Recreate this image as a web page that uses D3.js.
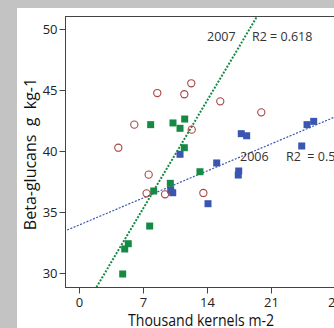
<!DOCTYPE html>
<html>
<head>
<meta charset="utf-8">
<script src="https://cdn.jsdelivr.net/npm/d3@7"></script>
<style>
  body { margin: 0; background: #c3c3c3; overflow: hidden; }
  text { font-family: "Open Sans", sans-serif; }
</style>
</head>
<body>
<div id="chart"></div>
<script>
// points: [kernels (thousand m-2), beta-glucans g kg-1]
const greenX = [7.84, 10.28, 11.05, 11.56, 11.52, 13.23, 9.99, 8.17, 7.73, 5.39, 5.0, 4.78];
const greenY = [42.16, 42.30, 41.86, 42.62, 40.27, 38.30, 37.35, 36.72, 33.85, 32.40, 31.97, 29.92];
const blueX = [11.05, 10.03, 10.25, 15.06, 17.47, 17.42, 14.11, 17.75, 18.34, 24.36, 24.94, 25.67];
const blueY = [39.73, 36.80, 36.58, 39.02, 38.36, 38.03, 35.68, 41.42, 41.25, 40.41, 42.16, 42.43];
const redX = [4.30, 6.05, 8.56, 11.52, 12.28, 15.45, 19.94, 12.33, 7.62, 7.39, 9.41, 13.60];
const redY = [40.27, 42.16, 44.75, 44.65, 45.55, 44.07, 43.17, 41.75, 38.06, 36.53, 36.45, 36.56];

// fitted lines [intercept, slope]
const fit2007 = [26.43, 1.263];
const fit2006 = [33.93, 0.3166];

const xTicks = [0, 7, 14, 21, 28];
const yTicks = [30, 35, 40, 45, 50];

const W = 334, H = 328;
const plotLeft = 65, plotTop = 16, plotBottom = 287;

const svg = d3.select("#chart").append("svg")
    .attr("width", W)
    .attr("height", H);

// white panel
svg.append("rect")
    .attr("x", 17).attr("y", 8)
    .attr("width", W).attr("height", H)
    .attr("fill", "#fff");

const x = d3.scaleLinear().domain([0, 28]).range([79, 335]);
const y = d3.scaleLinear().domain([30, 50]).range([273, 29]);

svg.append("clipPath").attr("id", "plot")
  .append("rect")
    .attr("x", plotLeft).attr("y", plotTop)
    .attr("width", W - plotLeft + 20).attr("height", plotBottom - plotTop);

// top frame line
svg.append("line")
    .attr("x1", plotLeft).attr("x2", W + 5)
    .attr("y1", plotTop + 0.5).attr("y2", plotTop + 0.5)
    .attr("stroke", "#444").attr("stroke-width", 1);

// axes
const yAxis = svg.append("g")
    .attr("transform", `translate(${plotLeft + 0.5},0)`)
    .call(d3.axisLeft(y).tickValues(yTicks).tickSize(6).tickPadding(2));
yAxis.select(".domain").attr("d", `M0,${plotTop}V${plotBottom}`);

const xAxis = svg.append("g")
    .attr("transform", `translate(0,${plotBottom + 0.5})`)
    .call(d3.axisBottom(x).tickValues(xTicks).tickSize(6).tickPadding(4));
xAxis.select(".domain").attr("d", `M${plotLeft},0H${W + 5}`);

svg.selectAll(".tick text")
    .attr("font-size", 13)
    .attr("font-family", "Open Sans, sans-serif")
    .attr("fill", "#222");
svg.selectAll(".domain, .tick line").attr("stroke", "#444");

// axis titles
svg.append("text")
    .attr("transform", "translate(36,154) rotate(-90)")
    .attr("text-anchor", "middle")
    .attr("font-size", 16)
    .attr("fill", "#111")
    .style("white-space", "pre")
    .text("Beta-glucans  g  kg-1");

svg.append("text")
    .attr("x", 128).attr("y", 326)
    .attr("font-size", 16)
    .attr("textLength", 146)
    .attr("lengthAdjust", "spacingAndGlyphs")
    .attr("fill", "#111")
    .text("Thousand kernels m-2");

const plot = svg.append("g").attr("clip-path", "url(#plot)");

// regression lines
const lineFrom = (fit) => [[-2, fit[0] + fit[1] * -2], [32, fit[0] + fit[1] * 32]];
const line = d3.line().x(d => x(d[0])).y(d => y(d[1]));

plot.append("path")
    .attr("d", line(lineFrom(fit2006)))
    .attr("fill", "none")
    .attr("stroke", "#3a56b0")
    .attr("stroke-width", 1.2)
    .attr("stroke-dasharray", "2,1.5");

plot.append("path")
    .attr("d", line(lineFrom(fit2007)))
    .attr("fill", "none")
    .attr("stroke", "#168a45")
    .attr("stroke-width", 2)
    .attr("stroke-dasharray", "2,1.5");

// markers
const sq = 7;
plot.selectAll("rect.blue")
    .data(d3.zip(blueX, blueY))
    .enter().append("rect")
    .attr("class", "blue")
    .attr("x", d => x(d[0]) - sq / 2)
    .attr("y", d => y(d[1]) - sq / 2)
    .attr("width", sq).attr("height", sq)
    .attr("fill", "#3a56b0");

plot.selectAll("rect.green")
    .data(d3.zip(greenX, greenY))
    .enter().append("rect")
    .attr("class", "green")
    .attr("x", d => x(d[0]) - sq / 2)
    .attr("y", d => y(d[1]) - sq / 2)
    .attr("width", sq).attr("height", sq)
    .attr("fill", "#168a45");

plot.selectAll("circle")
    .data(d3.zip(redX, redY))
    .enter().append("circle")
    .attr("cx", d => x(d[0]))
    .attr("cy", d => y(d[1]))
    .attr("r", 3.6)
    .attr("fill", "none")
    .attr("stroke", "#a84444")
    .attr("stroke-width", 1.1);

// line labels
const labels = [
    { t: "2007", x: 207, y: 41 },
    { t: "R2 = 0.618", x: 252, y: 41 },
    { t: "2006", x: 240, y: 161 },
    { t: "R2  = 0.5", x: 286, y: 161 }
];
svg.selectAll("text.lbl")
    .data(labels)
    .enter().append("text")
    .attr("class", "lbl")
    .attr("x", d => d.x).attr("y", d => d.y)
    .attr("font-size", 12.5)
    .attr("fill", "#333")
    .style("white-space", "pre")
    .text(d => d.t);
</script>
</body>
</html>
